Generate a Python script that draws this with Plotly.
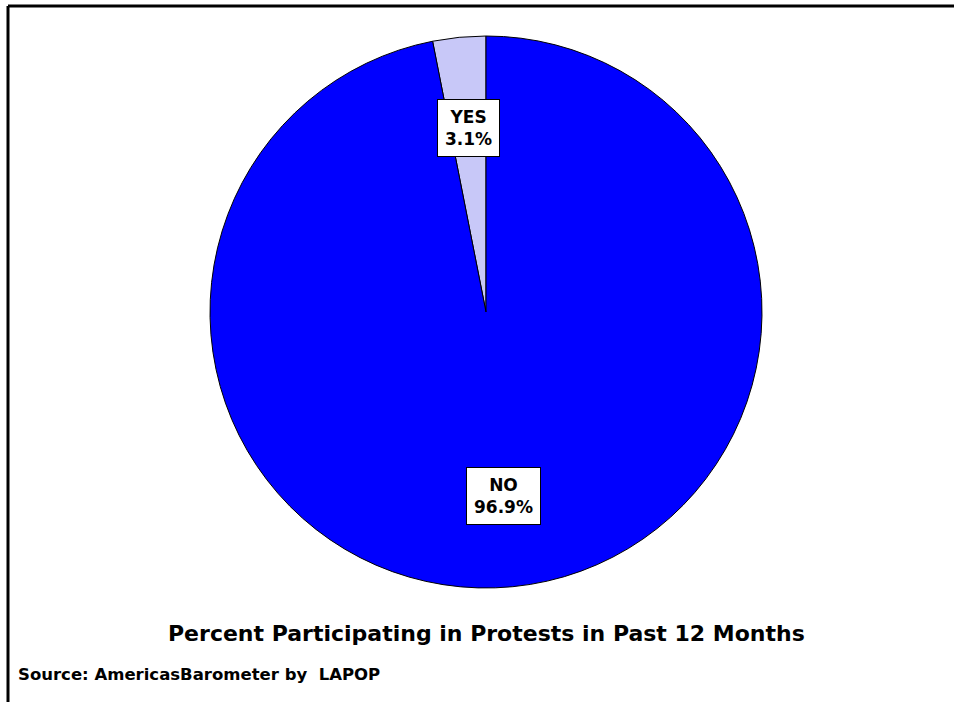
import math
import plotly.graph_objects as go

labels = ["YES", "NO"]
values = [3.1, 96.9]
colors = ["#C8C8F8", "#0000FF"]
title_text = "Percent Participating in Protests in Past 12 Months"
source_text = "Source: AmericasBarometer by  LAPOP"

W, H = 954, 702
cx_px, cy_px, R = 486, 312, 276
total = sum(values)

fig = go.Figure(go.Pie(
    labels=labels, values=values, sort=False, direction="clockwise",
    rotation=-values[0] / total * 360,
    marker=dict(colors=colors, line=dict(color="black", width=1)),
    textinfo="none", hoverinfo="label+percent", showlegend=False,
    domain=dict(x=[(cx_px - R) / W, (cx_px + R) / W],
                y=[1 - (cy_px + R) / H, 1 - (cy_px - R) / H]),
))

cum = 0
for lab, v in zip(labels, values):
    mid = (cum + v / 2) / total * 2 * math.pi
    cum += v
    r = 0.67 * R
    px = cx_px - r * math.sin(mid)
    py = cy_px - r * math.cos(mid)
    fig.add_annotation(
        x=px / W, y=1 - py / H, xref="paper", yref="paper", xanchor="center", yanchor="middle",
        text=f"<b>{lab}<br>{v:.1f}%</b>", showarrow=False,
        font=dict(family="DejaVu Sans", size=17, color="black"),
        bgcolor="white", bordercolor="black", borderwidth=1, borderpad=7,
    )

fig.add_annotation(x=486 / W, y=1 - 633 / H, xref="paper", yref="paper", xanchor="center", yanchor="middle",
                   text=f"<b>{title_text}</b>", showarrow=False,
                   font=dict(family="DejaVu Sans", size=22, color="black"))
fig.add_annotation(x=16 / W, y=1 - 674 / H, xref="paper", yref="paper", xanchor="left", yanchor="middle",
                   text=f"<b>{source_text}</b>", showarrow=False,
                   font=dict(family="DejaVu Sans", size=16.5, color="black"))

# frame lines (top and left)
fig.add_shape(type="line", xref="paper", yref="paper", x0=8 / W, x1=1.01, y0=1 - 6 / H, y1=1 - 6 / H,
              line=dict(color="black", width=3))
fig.add_shape(type="line", xref="paper", yref="paper", x0=8 / W, x1=8 / W, y0=1 - 6 / H, y1=-0.01,
              line=dict(color="black", width=3))

fig.update_layout(width=W, height=H, margin=dict(l=0, r=0, t=0, b=0),
                  paper_bgcolor="white", plot_bgcolor="white")
fig.write_html("out.html", config={"displayModeBar": False},
               post_script="document.body.style.margin='0';document.body.style.overflow='hidden';")
